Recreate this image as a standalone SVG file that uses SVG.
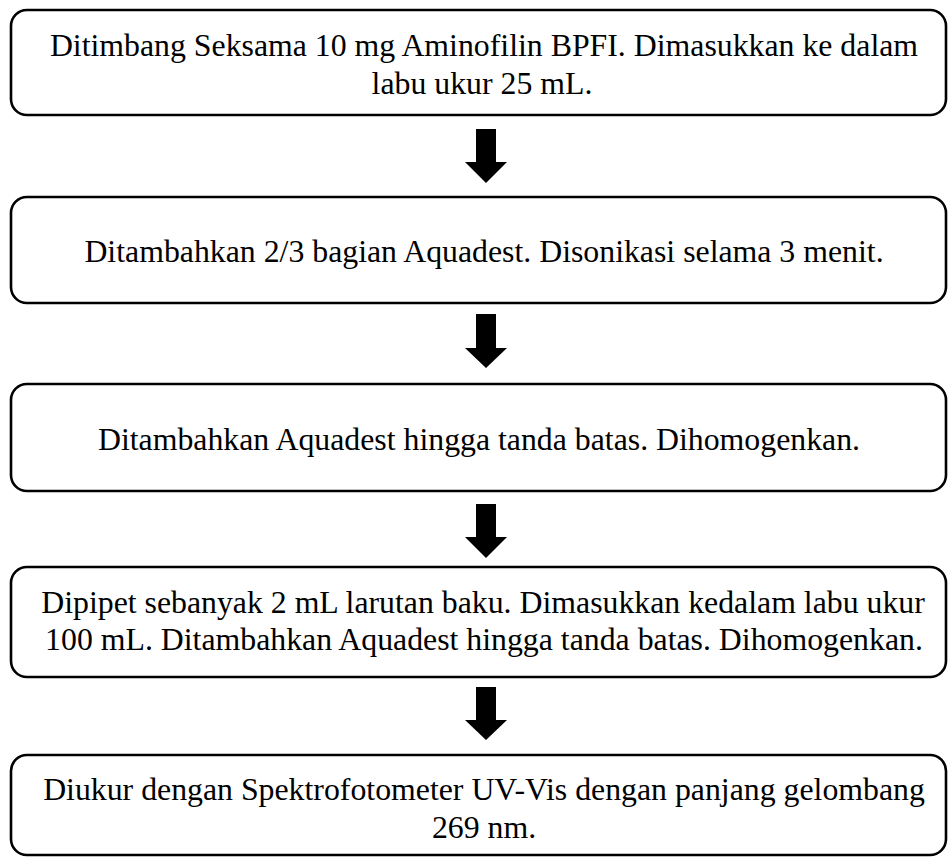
<svg xmlns="http://www.w3.org/2000/svg" width="948" height="857" viewBox="0 0 948 857">
<style>
.box{fill:#fff;stroke:#000;stroke-width:2.6}
.t{font-family:"Liberation Serif","Times New Roman",serif;font-size:31.8px;fill:#000;text-anchor:middle}
.arr{fill:#000}
</style>
<rect width="948" height="857" fill="#fff"/>
<g id="n1"><rect class="box" x="11" y="10" width="935" height="105" rx="16"/>
<text class="t" x="484" y="56">Ditimbang Seksama 10 mg Aminofilin BPFI. Dimasukkan ke dalam</text>
<text class="t" x="482" y="94">labu ukur 25 mL.</text></g>
<g id="n2"><rect class="box" x="11" y="197" width="935" height="106" rx="16"/>
<text class="t" x="484" y="262">Ditambahkan 2/3 bagian Aquadest. Disonikasi selama 3 menit.</text></g>
<g id="n3"><rect class="box" x="11" y="384" width="935" height="107" rx="16"/>
<text class="t" x="479" y="450">Ditambahkan Aquadest hingga tanda batas. Dihomogenkan.</text></g>
<g id="n4"><rect class="box" x="11" y="567" width="935" height="110" rx="16"/>
<text class="t" x="483" y="613">Dipipet sebanyak 2 mL larutan baku. Dimasukkan kedalam labu ukur</text>
<text class="t" x="484" y="650">100 mL. Ditambahkan Aquadest hingga tanda batas. Dihomogenkan.</text></g>
<g id="n5"><rect class="box" x="11" y="755" width="935" height="100" rx="16"/>
<text class="t" x="484" y="800">Diukur dengan Spektrofotometer UV-Vis dengan panjang gelombang</text>
<text class="t" x="484" y="838">269 nm.</text></g>
<g id="connectors">
<polygon class="arr" points="476,129 496,129 496,162 507,162 486,183 465,162 476,162"/>
<polygon class="arr" points="476,314 496,314 496,348 507,348 486,368 465,348 476,348"/>
<polygon class="arr" points="476,504 496,504 496,537 507,537 486,558 465,537 476,537"/>
<polygon class="arr" points="476,687 496,687 496,720 507,720 486,740 465,720 476,720"/>
</g>
</svg>
